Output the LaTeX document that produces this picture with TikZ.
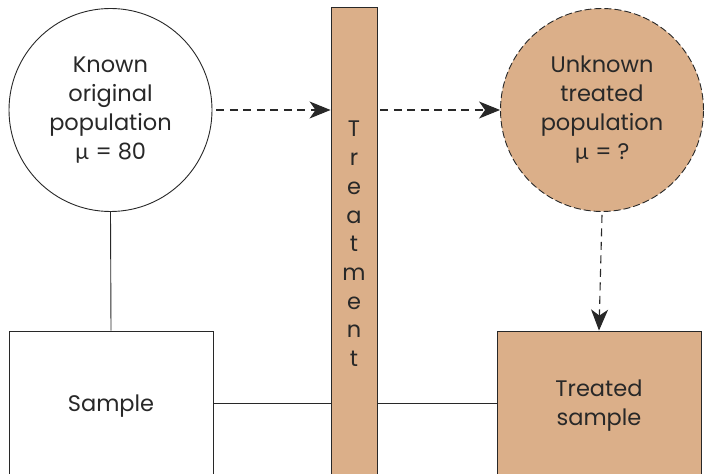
\documentclass[tikz,border=0pt]{standalone}
\usepackage{fontspec}
\setmainfont{Poppins}
\newfontfamily\mufont{Lato}
\usetikzlibrary{arrows.meta}
\definecolor{tan}{RGB}{219,175,137}
\definecolor{ink}{RGB}{40,40,40}
\newcommand{\mug}{{\mufont µ}}
\tikzset{
  lbl/.style={font=\fontsize{22.5}{29}\selectfont, text=ink, align=center},
  popcircle/.style={circle, draw=ink, line width=0.9pt, minimum size=203pt, inner sep=0pt, lbl},
  samplebox/.style={rectangle, draw=ink, line width=0.9pt, minimum width=204pt, minimum height=150pt, inner sep=0pt, lbl},
  link/.style={draw=ink, line width=0.9pt},
  flow/.style={draw=ink, line width=1.1pt, dash pattern=on 8pt off 5.5pt,
    arrows={-{Stealth[length=21pt,width=17pt,inset=6pt,fill=ink]}}},
  letter/.style={font=\fontsize{22.5}{22.5}\selectfont, text=ink, inner sep=0pt, anchor=base}
}
\begin{document}
\begin{tikzpicture}[x=1pt,y=1pt]
\useasboundingbox (0,0) rectangle (705,474);
\clip (0,0) rectangle (705,474);
\fill[white] (0,0) rectangle (705,474);

% treatment bar, running past the lower edge
\node[rectangle, draw=ink, fill=tan, line width=0.9pt, minimum width=46pt, minimum height=480pt, inner sep=0pt] (bar) at (354,227) {};
\foreach \ch [count=\i] in {T,r,e,a,t,m,e,n,t}
  \node[letter] (l\i) at (354, {474-137-28.7*(\i-1)}) {\ch};

% populations
\node[popcircle] (known) at (110.5,364) {Known\\original\\population\\\mug{} = 80};
\node[popcircle, fill=tan, dash pattern=on 7pt off 3pt] (unknown) at (602,364) {Unknown\\treated\\population\\\mug{} = ?};

% samples, running past the lower edge
\node[samplebox] (sample) at (111,68) {Sample};
\node[samplebox, fill=tan] (treated) at (599,68) {Treated\\sample};

% connectors
\draw[link] (known.south) -- (sample.north);
\draw[link] (sample.east) ++(0,3) coordinate (sright) -- (bar.west |- sright);
\draw[link] (bar.east |- sright) -- (treated.west |- sright);
\draw[flow] (known.east) ++(4,0) coordinate (kstart) -- (bar.west |- kstart);
\draw[flow] (bar.east |- kstart) ++(3,0) coordinate (bstart) -- (unknown.west |- bstart);
\draw[flow] (unknown.south) ++(0,-3) coordinate (ustart) -- (treated.north);
\end{tikzpicture}
\end{document}
